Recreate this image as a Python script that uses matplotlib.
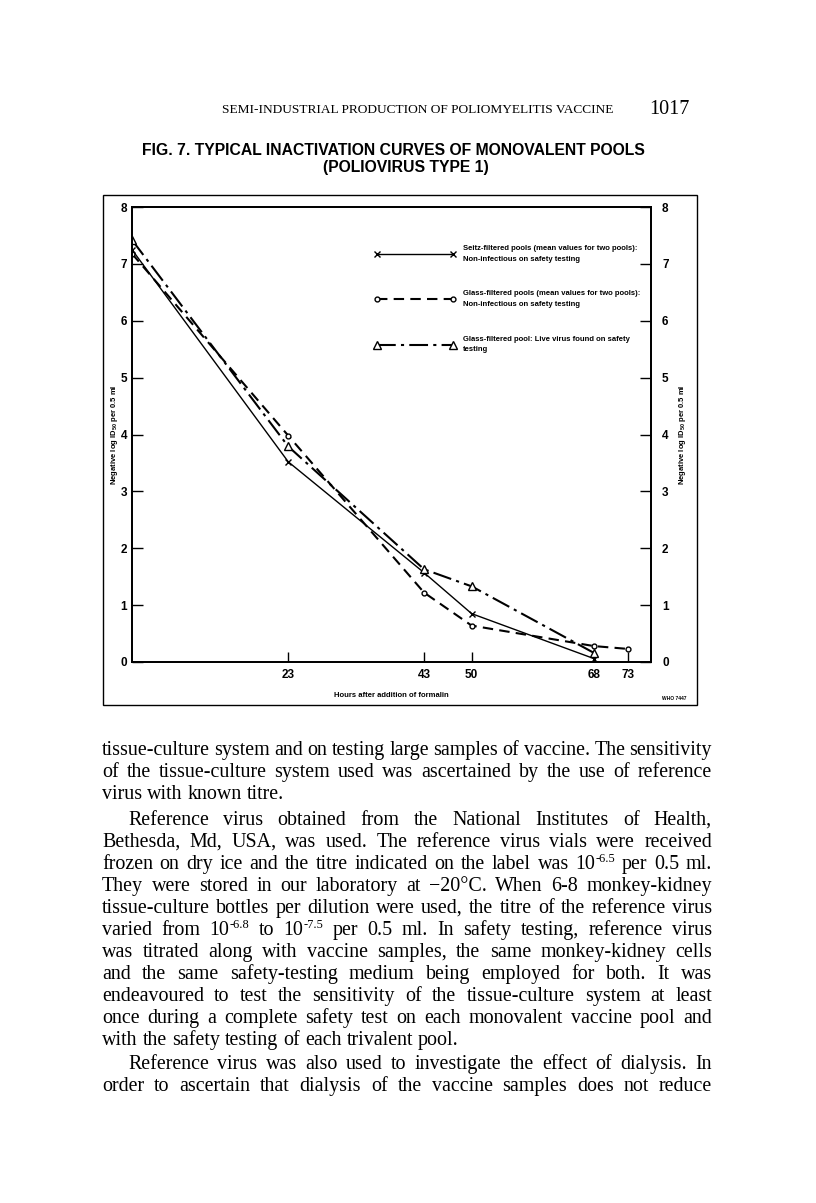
import matplotlib
matplotlib.use("Agg")
import matplotlib.pyplot as plt
from matplotlib.patches import Rectangle

# ---------------- data ----------------
hours_seitz = [0, 23, 43, 50, 68]
titre_seitz = [7.25, 3.52, 1.57, 0.85, 0.06]
hours_glass = [0, 23, 43, 50, 68, 73]
titre_glass = [7.18, 3.98, 1.22, 0.64, 0.28, 0.23]
hours_live = [0, 23, 43, 50, 68]
titre_live = [7.42, 3.79, 1.63, 1.33, 0.16]

x_ticks = [23, 43, 50, 68, 73]
x_tick_labels = ["23", "43", "50", "68", "73"]
y_ticks = [0, 1, 2, 3, 4, 5, 6, 7, 8]
y_tick_labels = ["0", "1", "2", "3", "4", "5", "6", "7", "8"]

label_seitz = "Seitz-filtered pools (mean values for two pools):\nNon-infectious on safety testing"
label_glass = "Glass-filtered pools (mean values for two pools):\nNon-infectious on safety testing"
label_live = "Glass-filtered pool: Live virus found on safety\ntesting"

header_text = "SEMI-INDUSTRIAL PRODUCTION OF POLIOMYELITIS VACCINE"
page_number = "1017"
title_line1 = "FIG. 7. TYPICAL INACTIVATION CURVES OF MONOVALENT POOLS"
title_line2 = "(POLIOVIRUS TYPE 1)"
x_label = "Hours after addition of formalin"
y_label = r"Negative log ID$_{50}$ per 0.5 ml"
who_ref = "WHO 7447"

# (text, justified, indented)
body_lines = [
    ("tissue-culture system and on testing large samples of vaccine. The sensitivity", True, False),
    ("of the tissue-culture system used was ascertained by the use of reference", True, False),
    ("virus with known titre.", False, False),
    ("Reference virus obtained from the National Institutes of Health,", True, True),
    ("Bethesda, Md, USA, was used. The reference virus vials were received", True, False),
    ("frozen on dry ice and the titre indicated on the label was 10^-6.5 per 0.5 ml.", True, False),
    ("They were stored in our laboratory at \u221220\u00b0C. When 6-8 monkey-kidney", True, False),
    ("tissue-culture bottles per dilution were used, the titre of the reference virus", True, False),
    ("varied from 10^-6.8 to 10^-7.5 per 0.5 ml. In safety testing, reference virus", True, False),
    ("was titrated along with vaccine samples, the same monkey-kidney cells", True, False),
    ("and the same safety-testing medium being employed for both. It was", True, False),
    ("endeavoured to test the sensitivity of the tissue-culture system at least", True, False),
    ("once during a complete safety test on each monovalent vaccine pool and", True, False),
    ("with the safety testing of each trivalent pool.", False, False),
    ("Reference virus was also used to investigate the effect of dialysis. In", True, True),
    ("order to ascertain that dialysis of the vaccine samples does not reduce", True, False),
]
body_baselines = [755, 777, 799, 825, 847, 869, 891, 913, 935, 957, 979, 1001, 1023, 1045, 1069, 1091]

# ---------------- style ----------------
plt.rcParams["font.family"] = ["Liberation Sans", "DejaVu Sans"]
plt.rcParams["font.weight"] = "bold"
plt.rcParams["mathtext.fontset"] = "custom"
plt.rcParams["mathtext.rm"] = "Liberation Sans:bold"
plt.rcParams["mathtext.bf"] = "Liberation Sans:bold"
plt.rcParams["mathtext.it"] = "Liberation Sans:bold"

W, H = 816, 1203
fig = plt.figure(figsize=(W / 100, H / 100), dpi=100)
fig.patch.set_facecolor("white")
renderer = fig.canvas.get_renderer()


def fx(px):
    return px / W


def fy(py):
    return 1 - py / H


SERIF = ["Liberation Serif", "DejaVu Serif"]


def text_width(s, size, family, weight="normal"):
    t = fig.text(0, 0, s, fontsize=size, family=family, weight=weight)
    w = t.get_window_extent(renderer).width
    t.remove()
    return w


# ---------------- header & title ----------------
fig.text(fx(418), fy(113), header_text, fontsize=9.6, family=SERIF, weight="normal",
         ha="center", va="baseline")
fig.text(fx(690), fy(114), page_number, fontsize=14.5, family=SERIF, weight="normal",
         ha="right", va="baseline")

tsize = 10 * 504 / text_width(title_line1, 10, ["Liberation Sans"], "bold")
tsize = min(tsize, 11.5)
fig.text(fx(393), fy(155), title_line1, fontsize=tsize, weight="bold", ha="center", va="baseline")
fig.text(fx(406), fy(172), title_line2, fontsize=tsize, weight="bold", ha="center", va="baseline")

# outer frame of the figure
fig.add_artist(Rectangle((fx(103), fy(705)), fx(697) - fx(103), fy(195) - fy(705),
                         transform=fig.transFigure, fill=False, lw=1.0, ec="black"))

# ---------------- axes ----------------
ax = fig.add_axes([fx(132), fy(662), fx(651) - fx(132), fy(207) - fy(662)])
ax.plot(hours_seitz, titre_seitz, color="black", lw=1.0, marker="x", ms=5, mew=1.0,
        label=label_seitz)
ax.plot(hours_glass, titre_glass, color="black", lw=1.5, ls=(0, (5, 3)), marker="o", ms=3.5,
        mfc="white", mew=1.0, label=label_glass)
ax.plot(hours_live, titre_live, color="black", lw=1.5, ls=(0, (9, 2.5, 1.5, 2.5)), marker="^",
        ms=6, mfc="white", mew=1.0, label=label_live)

ax.set_xlim(0, 76.4)
ax.set_ylim(0, 8)
ax.set_xticks(x_ticks)
ax.set_xticklabels(x_tick_labels)
ax.set_yticks(y_ticks)
ax.set_yticklabels(y_tick_labels)
ax.tick_params(axis="x", direction="in", length=7, width=1.0, pad=5, labelsize=8.5)
ax.tick_params(axis="y", direction="in", length=8, width=1.0, pad=3.5, labelsize=8.5)
for sp in ax.spines.values():
    sp.set_linewidth(1.3)

ax2 = ax.twinx()
ax2.set_ylim(0, 8)
ax2.set_yticks(y_ticks)
ax2.set_yticklabels(y_tick_labels)
ax2.tick_params(axis="y", direction="in", length=8, width=1.0, pad=8, labelsize=8.5)
for sp in ax2.spines.values():
    sp.set_linewidth(1.3)

ax.set_xlabel(x_label, fontsize=5.5, weight="bold", labelpad=8)
ax.set_ylabel(y_label, fontsize=5.5, weight="bold")
ax.yaxis.set_label_coords((115 - 132) / 519, 0.5)
ax.yaxis.label.set_verticalalignment("center")
ax2.set_ylabel(y_label, fontsize=5.5, weight="bold", rotation=90)
ax2.yaxis.set_label_coords((682 - 132) / 519, 0.5)
ax2.yaxis.label.set_verticalalignment("center")

leg = ax.legend(loc="upper left", bbox_to_anchor=((375 - 132) / 519, (662 - 245) / 455),
                frameon=False, fontsize=5.5, numpoints=2, handlelength=10.5,
                handletextpad=1.0, labelspacing=3.65, borderpad=0, borderaxespad=0)
for t in leg.get_texts():
    t.set_linespacing(1.7)
    t.set_weight("bold")
try:
    for col in leg._legend_handle_box.get_children():
        for item in col.get_children():
            item.align = "center"
except Exception:
    pass

fig.text(fx(662), fy(700), who_ref, fontsize=3.5, weight="bold", ha="left", va="baseline")

# ---------------- body text (justified) ----------------
LEFT, RIGHT, INDENT = 102, 712, 26
REF = 10.0
space_ref = text_width("a a", REF, SERIF) - text_width("aa", REF, SERIF)


def segments(word):
    if "^" in word:
        base, sup = word.split("^", 1)
        return [(base, False), (sup, True)]
    return [(word, False)]


def word_width(word, size):
    return sum(text_width(s, size * (0.62 if sup else 1.0), SERIF) for s, sup in segments(word))


# largest size at which every justified line still fits with reasonable spaces
fits = []
for line, justify, indent in body_lines:
    if not justify:
        continue
    words = line.split(" ")
    natural = sum(word_width(w, REF) for w in words) + (len(words) - 1) * 0.85 * space_ref
    avail = RIGHT - LEFT - (INDENT if indent else 0)
    fits.append(REF * avail / natural)
BSIZE = min(16.0, min(fits))
space_w = space_ref * BSIZE / REF

for (line, justify, indent), base_y in zip(body_lines, body_baselines):
    words = line.split(" ")
    widths = [word_width(w, BSIZE) for w in words]
    x0 = LEFT + (INDENT if indent else 0)
    if justify and len(words) > 1:
        gap = (RIGHT - x0 - sum(widths)) / (len(words) - 1)
    else:
        gap = space_w
    x = x0
    for w, wd in zip(words, widths):
        xx = x
        for s, sup in segments(w):
            size = BSIZE * (0.62 if sup else 1.0)
            yy = base_y - (7 if sup else 0)
            fig.text(fx(xx), fy(yy), s, fontsize=size, family=SERIF, weight="normal",
                     ha="left", va="baseline")
            xx += text_width(s, size, SERIF)
        x += wd + gap

fig.savefig("out.png", dpi=100, facecolor="white")
